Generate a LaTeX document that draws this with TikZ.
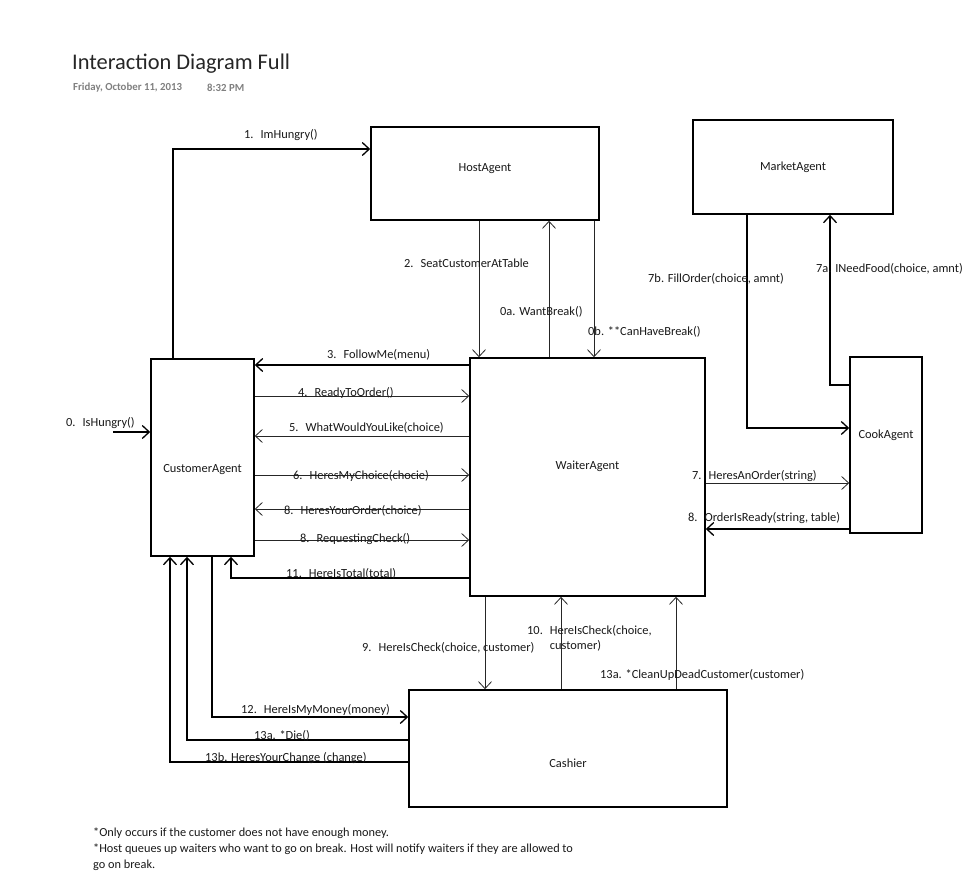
\documentclass[tikz,border=0pt]{standalone}
\usepackage{fontspec}
\setmainfont{Carlito}
\usetikzlibrary{arrows.meta}

\newcommand{\msgnr}[1]{#1\hspace{7pt}}

\begin{document}
\begin{tikzpicture}[x=1pt,y=-1pt,->,>={Straight Barb[length=7pt,width=13pt]}]
      \tikzstyle{agent} = [draw=black, line width=1.6pt, inner sep=0pt, font=\fontsize{12.4}{15}\selectfont, text=black!90]
      \tikzstyle{msg} = [draw=black, line width=1.3pt]
      \tikzstyle{thin msg} = [draw=black!85, line width=0.8pt]
      \tikzstyle{lbl} = [anchor=west, inner sep=0pt, yshift=-1.5pt, font=\fontsize{12.4}{15}\selectfont, text=black!90]
      \fill[white,-] (0,0) rectangle (970,880);
      \useasboundingbox (0,0) rectangle (970,880);

      %header
      \node[lbl, font=\fontsize{22.4}{26}\selectfont, text=black!85] (title) at (72,62) {Interaction Diagram Full};
      \node[lbl, font=\fontsize{10.8}{12}\selectfont\bfseries, text=black!50] (date) at (73,86) {Friday, October 11, 2013};
      \node[lbl, font=\fontsize{10.8}{12}\selectfont\bfseries, text=black!50] (time) at (207,86) {8:32 PM};

      %nodes
      \node[agent, minimum width=228pt, text height=45pt, text depth=48pt] (host) at (485,173.5) {HostAgent};
      \node[agent, minimum width=200pt, text height=51pt, text depth=43pt] (market) at (793,167) {MarketAgent};
      \node[agent, minimum width=103pt, text height=113pt, text depth=84pt] (cust) at (202.5,457.5) {CustomerAgent};
      \node[agent, minimum width=235pt, text height=111pt, text depth=127pt] (waiter) at (587.5,477) {WaiterAgent};
      \node[agent, minimum width=72pt, text height=81pt, text depth=95pt] (cook) at (886,445) {CookAgent};
      \node[agent, minimum width=318pt, text height=77pt, text depth=40pt] (cashier) at (568,748.5) {Cashier};
      \coordinate (hungry) at (113,432);

      %lines
      \draw[msg] (hungry) -- (cust.west |- hungry);
      \draw[msg] (cust.north -| 173,0) |- (host.west |- 0,149);
      \draw[thin msg] (host.south -| 479,0) -- (waiter.north -| 479,0);
      \draw[thin msg] (waiter.north -| 549,0) -- (host.south -| 549,0);
      \draw[thin msg] (host.south -| 594,0) -- (waiter.north -| 594,0);
      \draw[msg] (waiter.west |- 0,365) -- (cust.east |- 0,365);
      \draw[thin msg] (cust.east |- 0,396) -- (waiter.west |- 0,396);
      \draw[thin msg] (waiter.west |- 0,436) -- (cust.east |- 0,436);
      \draw[thin msg] (cust.east |- 0,475) -- (waiter.west |- 0,475);
      \draw[thin msg] (waiter.west |- 0,509) -- (cust.east |- 0,509);
      \draw[thin msg] (cust.east |- 0,540) -- (waiter.west |- 0,540);
      \draw[msg] (waiter.west |- 0,578) -| (cust.south -| 231,0);
      \draw[thin msg] (waiter.east |- 0,483) -- (cook.west |- 0,483);
      \draw[msg] (cook.west |- 0,529) -- (waiter.east |- 0,529);
      \draw[msg] (market.south -| 747,0) |- (cook.west |- 0,428);
      \draw[msg] (cook.west |- 0,385) -| (market.south -| 830,0);
      \draw[thin msg] (waiter.south -| 485,0) -- (cashier.north -| 485,0);
      \draw[thin msg] (cashier.north -| 561,0) -- (waiter.south -| 561,0);
      \draw[thin msg] (cashier.north -| 676,0) -- (waiter.south -| 676,0);
      \draw[msg] (cust.south -| 212,0) |- (cashier.west |- 0,717);
      \draw[msg] (cashier.west |- 0,740) -| (cust.south -| 187,0);
      \draw[msg] (cashier.west |- 0,762) -| (cust.south -| 170,0);

      %labels
      \node[lbl] (l0) at (66,422) {\msgnr{0.}IsHungry()};
      \node[lbl] (l1) at (244,134) {\msgnr{1.}ImHungry()};
      \node[lbl] (l2) at (404,262) {\msgnr{2.}SeatCustomerAtTable};
      \node[lbl] (l0a) at (500,310) {0a. WantBreak()};
      \node[lbl] (l0b) at (588,330) {0b. **CanHaveBreak()};
      \node[lbl] (l3) at (327,353) {\msgnr{3.}FollowMe(menu)};
      \node[lbl] (l4) at (298,391) {\msgnr{4.}ReadyToOrder()};
      \node[lbl] (l5) at (289,426) {\msgnr{5.}WhatWouldYouLike(choice)};
      \node[lbl] (l6) at (293,474) {\msgnr{6.}HeresMyChoice(chocie)};
      \node[lbl] (l8a) at (284,509) {\msgnr{8.}HeresYourOrder(choice)};
      \node[lbl] (l8b) at (300,538) {\msgnr{8.}RequestingCheck()};
      \node[lbl] (l11) at (286,572) {\msgnr{11.}HereIsTotal(total)};
      \node[lbl] (l7b) at (648,277) {7b. FillOrder(choice, amnt)};
      \node[lbl] (l7a) at (816,267) {7a. INeedFood(choice, amnt)};
      \node[lbl] (l7) at (692,475) {\msgnr{7.}HeresAnOrder(string)};
      \node[lbl] (l8c) at (688,517) {\msgnr{8.}OrderIsReady(string, table)};
      \node[lbl] (l9) at (362,646) {\msgnr{9.}HereIsCheck(choice, customer)};
      \node[lbl, anchor=north west] (l10) at (527,622) {\msgnr{10.}\begin{tabular}[t]{@{}l@{}}HereIsCheck(choice,\\ customer)\end{tabular}};
      \node[lbl] (l13c) at (600,673) {13a. *CleanUpDeadCustomer(customer)};
      \node[lbl] (l12) at (241,708) {\msgnr{12.}HereIsMyMoney(money)};
      \node[lbl] (l13a) at (254,734) {13a. *Die()};
      \node[lbl] (l13b) at (205,757) {13b. HeresYourChange (change)};

      %notes
      \node[lbl, anchor=north west, align=left, font=\fontsize{12.3}{16}\selectfont] (notes) at (93,826)
         {*Only occurs if the customer does not have enough money.\\
          *Host queues up waiters who want to go on break. Host will notify waiters if they are allowed to\\
          go on break.};
\end{tikzpicture}
\end{document}
